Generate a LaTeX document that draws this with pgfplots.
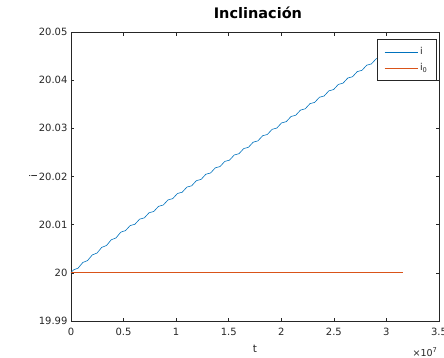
\documentclass[border=0pt]{standalone}
\usepackage{fontspec}
\setmainfont{DejaVu Sans}
\usepackage{pgfplots}
\usepackage{pgfplotstable}
\pgfplotsset{compat=1.18}

\definecolor{axgray}{rgb}{0.15,0.15,0.15}
\definecolor{mblue}{rgb}{0,0.447,0.741}
\definecolor{morange}{rgb}{0.85,0.325,0.098}

% t in units of 1e7 s; di = (i - 20) in thousandths of a degree
\pgfplotstableread{
t di
0 0
0.0225 0.592
0.045 0.783
0.0675 0.975
0.09 1.566
0.1125 2.158
0.135 2.349
0.1575 2.541
0.18 3.132
0.2025 3.724
0.225 3.915
0.2475 4.107
0.27 4.698
0.2925 5.290
0.315 5.481
0.3375 5.673
0.36 6.264
0.3825 6.856
0.405 7.047
0.4275 7.239
0.45 7.830
0.4725 8.422
0.495 8.613
0.5175 8.746
0.54 9.279
0.5625 9.812
0.585 9.945
0.6075 10.078
0.63 10.611
0.6525 11.144
0.675 11.277
0.6975 11.410
0.72 11.943
0.7425 12.476
0.765 12.609
0.7875 12.742
0.81 13.275
0.8325 13.808
0.855 13.941
0.8775 14.074
0.9 14.607
0.9225 15.140
0.945 15.273
0.9675 15.406
0.99 15.939
1.0125 16.472
1.035 16.605
1.0575 16.738
1.08 17.271
1.1025 17.804
1.125 17.937
1.1475 18.070
1.17 18.603
1.1925 19.136
1.215 19.269
1.2375 19.402
1.26 19.935
1.2825 20.468
1.305 20.601
1.3275 20.734
1.35 21.267
1.3725 21.800
1.395 21.933
1.4175 22.066
1.44 22.599
1.4625 23.132
1.485 23.265
1.5075 23.398
1.53 23.931
1.5525 24.464
1.575 24.597
1.5975 24.730
1.62 25.263
1.6425 25.796
1.665 25.929
1.6875 26.062
1.71 26.595
1.7325 27.128
1.755 27.261
1.7775 27.394
1.8 27.927
1.8225 28.460
1.845 28.593
1.8675 28.726
1.89 29.259
1.9125 29.792
1.935 29.925
1.9575 30.058
1.98 30.591
2.0025 31.124
2.025 31.257
2.0475 31.390
2.07 31.923
2.0925 32.456
2.115 32.589
2.1375 32.722
2.16 33.255
2.1825 33.788
2.205 33.921
2.2275 34.054
2.25 34.587
2.2725 35.120
2.295 35.253
2.3175 35.386
2.34 35.919
2.3625 36.452
2.385 36.585
2.4075 36.718
2.43 37.251
2.4525 37.784
2.475 37.917
2.4975 38.050
2.52 38.583
2.5425 39.116
2.565 39.249
2.5875 39.382
2.61 39.915
2.6325 40.448
2.655 40.581
2.6775 40.714
2.7 41.247
2.7225 41.780
2.745 41.913
2.7675 42.046
2.79 42.579
2.8125 43.112
2.835 43.245
2.8575 43.378
2.88 43.911
2.9025 44.444
2.925 44.577
2.9475 44.710
2.97 45.243
2.9925 45.776
3.015 45.909
3.0375 46.042
3.06 46.575
3.0825 47.108
3.105 47.241
3.1275 47.374
3.15 47.907
}\incl

\pgfplotstableread{
t di
0 0
3.156 0
}\inclzero

\begin{document}
\begin{tikzpicture}
\useasboundingbox (-71pt,-36pt) rectangle (373pt,321pt);
\begin{axis}[
  at={(0,0)}, anchor=south west,
  scale only axis, width=368pt, height=289pt,
  clip=false,
  xmin=0, xmax=3.5, ymin=-10, ymax=50,
  xtick={0,0.5,1,1.5,2,2.5,3,3.5},
  ytick={-10,0,10,20,30,40,50},
  yticklabels={19.99,20,20.01,20.02,20.03,20.04,20.05},
  /pgf/number format/assume math mode=true,
  tick align=inside, major tick length=3.5pt,
  axis line style={draw=axgray, line width=0.5pt},
  tick style={draw=axgray, line width=0.5pt},
  ticklabel style={font=\fontsize{10}{11}\selectfont, text=axgray},
  xticklabel style={yshift=-3.5pt},
  xlabel={t}, ylabel={i},
  label style={font=\fontsize{10.5}{11}\selectfont, text=axgray},
  xlabel style={at={(axis description cs:0.5,-0.097)}, anchor=center},
  ylabel style={at={(axis description cs:-0.103,0.5)}, anchor=center, rotate=0},
  title={\textbf{Inclinación}},
  title style={at={(axis description cs:0.508,1)}, anchor=base, yshift=8pt,
    font=\fontsize{14.5}{15}\selectfont, text=black},
  legend cell align=left,
  legend style={at={(axis description cs:0.9937,0.975)}, anchor=north east,
    draw=axgray, line width=0.5pt, fill=white,
    font=\fontsize{9.5}{10}\selectfont, text=axgray,
    inner xsep=7pt, inner ysep=6pt, row sep=3.5pt},
  legend image code/.code={\draw[#1] (0pt,0pt) -- (33pt,0pt);},
]
\addplot[draw=mblue, line width=0.6pt, smooth, tension=0.55] table[x=t, y=di] {\incl};
\addlegendentry{i}
\addplot[draw=morange, line width=0.7pt] table[x=t, y=di] {\inclzero};
\addlegendentry{i\textsubscript{0}\hspace{3pt}}
\node[font=\fontsize{9.5}{10}\selectfont, text=axgray] at (axis description cs:0.962,-0.107) {×10\textsuperscript{7}};
\end{axis}
\end{tikzpicture}
\end{document}
